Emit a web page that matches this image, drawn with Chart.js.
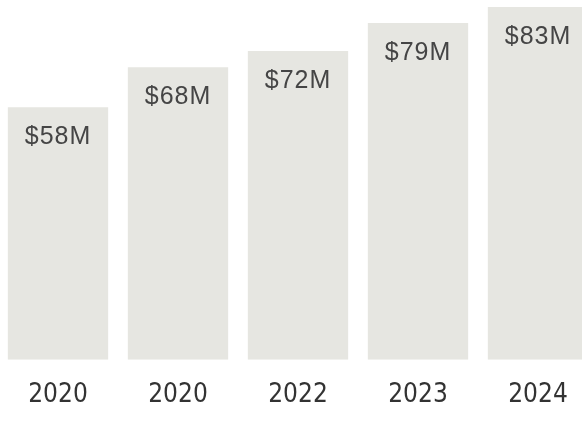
<!DOCTYPE html>
<html>
<head>
<meta charset="utf-8">
<script src="https://cdn.jsdelivr.net/npm/chart.js@4/dist/chart.umd.min.js"></script>
<style>
  html, body { margin: 0; padding: 0; background: #fff; overflow: hidden; }
  #wrap { width: 600px; height: 423px; margin-left: -2px; }
</style>
</head>
<body>
<div id="wrap"><canvas id="myChart"></canvas></div>
<script>
var years = ['2020', '2020', '2022', '2023', '2024']
var revenue = [58, 68, 72, 79, 83]
var valueLabels = ['$58M', '$68M', '$72M', '$79M', '$83M']

// write the value near the top inside each bar
var barLabels = {
  id: 'barLabels',
  afterDatasetsDraw(chart) {
    var ctx = chart.ctx
    var bars = chart.getDatasetMeta(0).data
    ctx.save()
    ctx.font = '25px "Liberation Sans", Arial, sans-serif'
    ctx.letterSpacing = '1px'
    ctx.fillStyle = '#454545'
    ctx.textAlign = 'center'
    ctx.textBaseline = 'middle'
    bars.forEach(function (bar, i) {
      ctx.fillText(valueLabels[i], bar.x, bar.y + 30)
    })
    ctx.restore()
  },
}

new Chart('myChart', {
  type: 'bar',
  data: {
    labels: years,
    datasets: [
      {
        data: revenue,
        base: -5,
        backgroundColor: '#e6e6e1',
        barPercentage: 0.88,
        categoryPercentage: 0.95,
      },
    ],
  },
  options: {
    responsive: true,
    maintainAspectRatio: false,
    animation: false,
    layout: { padding: { left: 0, right: 0, top: 7, bottom: -8 } },
    plugins: {
      legend: { display: false },
      tooltip: { enabled: false },
    },
    scales: {
      x: {
        grid: { display: false, drawTicks: false },
        border: { display: false },
        ticks: {
          padding: 20,
          color: '#333',
          font: { family: '"Liberation Sans Narrow", "DejaVu Sans Condensed", sans-serif', size: 26 },
        },
      },
      y: {
        display: false,
        min: -5,
        max: 83,
      },
    },
  },
  plugins: [barLabels],
})
</script>
</body>
</html>
